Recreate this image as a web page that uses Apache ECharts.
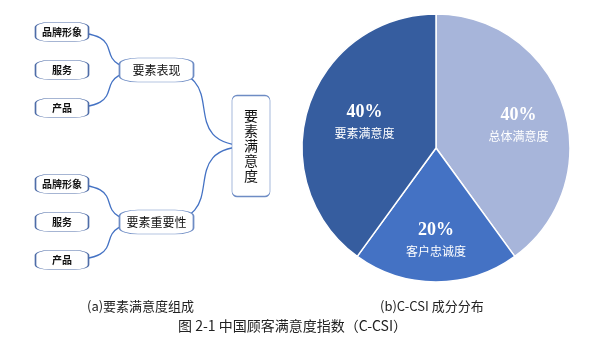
<!DOCTYPE html>
<html>
<head>
<meta charset="utf-8">
<script src="https://cdn.jsdelivr.net/npm/echarts@6/dist/echarts.min.js"></script>
<style>
  html, body { margin: 0; padding: 0; background: #fff; }
  #chart { width: 592px; height: 342px; }
</style>
</head>
<body>
<div id="chart"></div>
<script>
// (a) composition of element satisfaction: root, two groups, three leaves each
const rootName = '要素满意度';
const groupNames = ['要素表现', '要素重要性'];
const leafNames = ['品牌形象', '服务', '产品'];

// (b) C-CSI component shares (%)
const sliceNames = ['总体满意度', '客户忠诚度', '要素满意度'];
const sliceValues = [40, 20, 40];

// captions
const captionA = '(a)要素满意度组成';
const captionB = '(b)C-CSI 成分分布';
const figureTitle = '图 2-1 中国顾客满意度指数（C-CSI）';

const CJK = '"Noto Sans CJK SC", "Noto Sans", sans-serif';
const sliceColors = ['#A7B5DA', '#4472C4', '#365D9F'];
// nudges for the in-slice labels, one per slice
const labelNudge = [[16, -1], [0, 22], [-5, -4]];

// tall rounded box for the root node (drawn 1:1 at its symbol size)
const tallBox = 'path://M5,0H33A5,5,0,0,1,38,5V96A5,5,0,0,1,33,101H5A5,5,0,0,1,0,96V5A5,5,0,0,1,5,0Z';

// the brace reaches the outer items of each group; the middle item sits inside it
const leafNode = (name, i, arr) => {
  const node = { name };
  if (i !== 0 && i !== arr.length - 1) node.lineStyle = { opacity: 0 };
  return node;
};

const treeData = {
  name: rootName,
  symbol: tallBox,
  symbolSize: [38, 101],
  itemStyle: { borderColor: '#6E8CC4' },
  label: {
    formatter: p => p.name.split('').join('\n'),
    fontSize: 14, lineHeight: 15, fontWeight: 'normal', color: '#111', fontFamily: CJK
  },
  children: groupNames.map(g => ({
    name: g,
    symbolSize: [74, 24],
    itemStyle: { borderColor: '#6E8CC4' },
    label: { fontSize: 12, fontWeight: 'normal', color: '#111', fontFamily: CJK },
    children: leafNames.map(leafNode)
  }))
};

const chart = echarts.init(document.getElementById('chart'), null, { renderer: 'canvas' });

chart.setOption({
  backgroundColor: '#fff',
  animation: false,
  series: [
    {
      type: 'tree',
      data: [treeData],
      orient: 'RL',
      left: 62, width: 189,
      top: -6, height: 304,
      symbol: 'roundRect',
      symbolSize: [53, 19],
      symbolKeepAspect: false,
      itemStyle: { color: '#fff', borderColor: '#4F6DA8', borderWidth: 1 },
      edgeShape: 'curve',
      lineStyle: { color: '#4472C4', width: 1.3, curveness: 0.88 },
      label: { position: 'inside', fontSize: 10, fontWeight: 'bold', color: '#111', fontFamily: CJK },
      leaves: { label: { position: 'inside', fontSize: 10, fontWeight: 'bold', color: '#111', fontFamily: CJK } },
      expandAndCollapse: false,
      initialTreeDepth: -1,
      roam: false,
      silent: true,
      emphasis: { disabled: true }
    },
    {
      type: 'pie',
      center: [436, 148],
      radius: 134,
      startAngle: 90,
      clockwise: true,
      silent: true,
      itemStyle: { borderColor: '#fff', borderWidth: 1.5 },
      labelLine: { show: false },
      label: {
        show: true,
        position: 'inside',
        formatter: '{p|{c}%}\n{n|{b}}',
        rich: {
          p: { fontFamily: '"Liberation Serif", serif', fontWeight: 'bold', fontSize: 18, color: '#fff', lineHeight: 22 },
          n: { fontFamily: CJK, fontSize: 12, color: '#fff', lineHeight: 20 }
        }
      },
      data: sliceNames.map((n, i) => ({
        name: n,
        value: sliceValues[i],
        itemStyle: { color: sliceColors[i] },
        label: { offset: labelNudge[i] }
      }))
    }
  ],
  graphic: [
    { type: 'text', left: 87, top: 300, style: { text: captionA, font: '13px ' + CJK, fill: '#222' } },
    { type: 'text', left: 380, top: 300, style: { text: captionB, font: '13px ' + CJK, fill: '#222' } },
    { type: 'text', left: 178, top: 319, style: { text: figureTitle, font: '14px ' + CJK, fill: '#222' } }
  ]
});
</script>
</body>
</html>
